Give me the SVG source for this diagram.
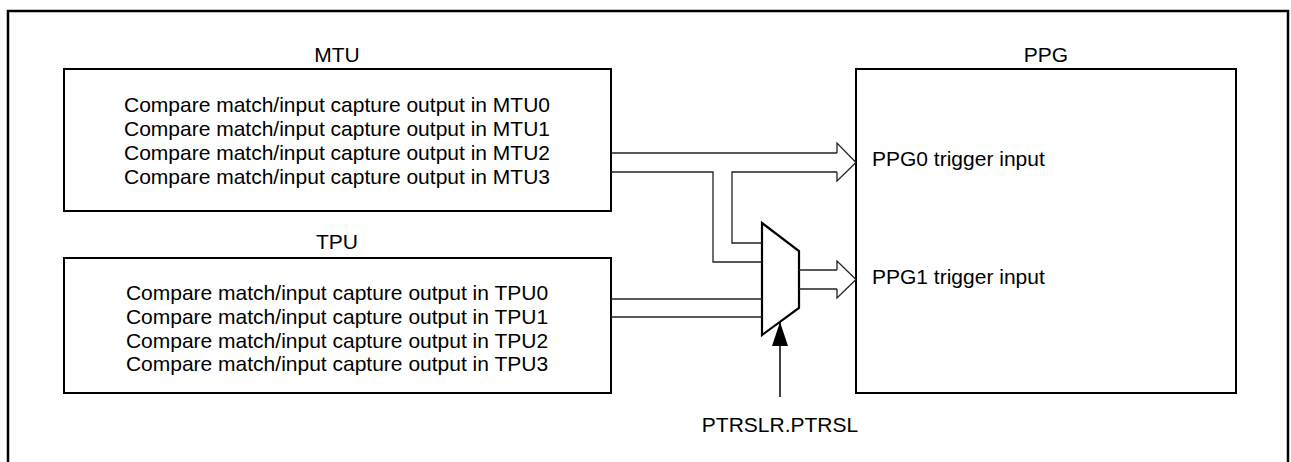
<svg xmlns="http://www.w3.org/2000/svg" width="1291" height="462" viewBox="0 0 1291 462">
  <style>
    text { font-family: "Liberation Sans", Arial, sans-serif; font-size: 21px; fill: #000; }
    .box { fill: #fff; stroke: #000; stroke-width: 2; }
    .wire { fill: none; stroke: #222; stroke-width: 1.3; }
    .head { fill: #fff; stroke: #222; stroke-width: 1.3; stroke-linejoin: miter; }
    .mid { text-anchor: middle; }
  </style>
  <defs>
    <marker id="solid" viewBox="0 0 24 16" refX="24" refY="8" markerWidth="24" markerHeight="16" markerUnits="userSpaceOnUse" orient="auto">
      <path d="M0,0 L24,8 L0,16 Z" fill="#000"/>
    </marker>
  </defs>

  <g id="frame">
    <path d="M8,462 V11 H1288 V462" fill="none" stroke="#000" stroke-width="2.5"/>
  </g>

  <g id="mtu">
    <text x="337" y="62" class="mid">MTU</text>
    <rect class="box" x="64" y="69" width="547" height="142"/>
    <text x="337" y="112" class="mid">Compare match/input capture output in MTU0</text>
    <text x="337" y="136" class="mid">Compare match/input capture output in MTU1</text>
    <text x="337" y="160" class="mid">Compare match/input capture output in MTU2</text>
    <text x="337" y="184" class="mid">Compare match/input capture output in MTU3</text>
  </g>

  <g id="tpu">
    <text x="337" y="249" class="mid">TPU</text>
    <rect class="box" x="64" y="258" width="547" height="135"/>
    <text x="337" y="300" class="mid">Compare match/input capture output in TPU0</text>
    <text x="337" y="324" class="mid">Compare match/input capture output in TPU1</text>
    <text x="337" y="348" class="mid">Compare match/input capture output in TPU2</text>
    <text x="337" y="371" class="mid">Compare match/input capture output in TPU3</text>
  </g>

  <g id="ppg">
    <text x="1046" y="62" class="mid">PPG</text>
    <rect class="box" x="856" y="69" width="380" height="324"/>
    <text x="872" y="166">PPG0 trigger input</text>
    <text x="872" y="284">PPG1 trigger input</text>
  </g>

  <g id="mux">
    <path d="M762,223 L799,251 L799,308 L762,335 Z" fill="#fff" stroke="#000" stroke-width="2.2" stroke-linejoin="miter"/>
  </g>

  <g id="ptrsl">
    <text x="780" y="432" class="mid">PTRSLR.PTRSL</text>
  </g>

  <g id="connectors">
    <path class="wire" d="M611,153 H837"/>
    <path class="wire" d="M611,172 H713 V262 H762"/>
    <path class="wire" d="M837,172 H732 V243 H762"/>
    <path class="head" d="M837,153 V143 L856,162.5 L837,181 V172"/>
    <path class="wire" d="M611,299 H762"/>
    <path class="wire" d="M611,317 H762"/>
    <path class="wire" d="M799,270 H837"/>
    <path class="wire" d="M799,289 H837"/>
    <path class="head" d="M837,270 V261 L856,279.5 L837,298 V289"/>
    <path d="M780,397 V322" fill="none" stroke="#000" stroke-width="1.5" marker-end="url(#solid)"/>
  </g>
</svg>
